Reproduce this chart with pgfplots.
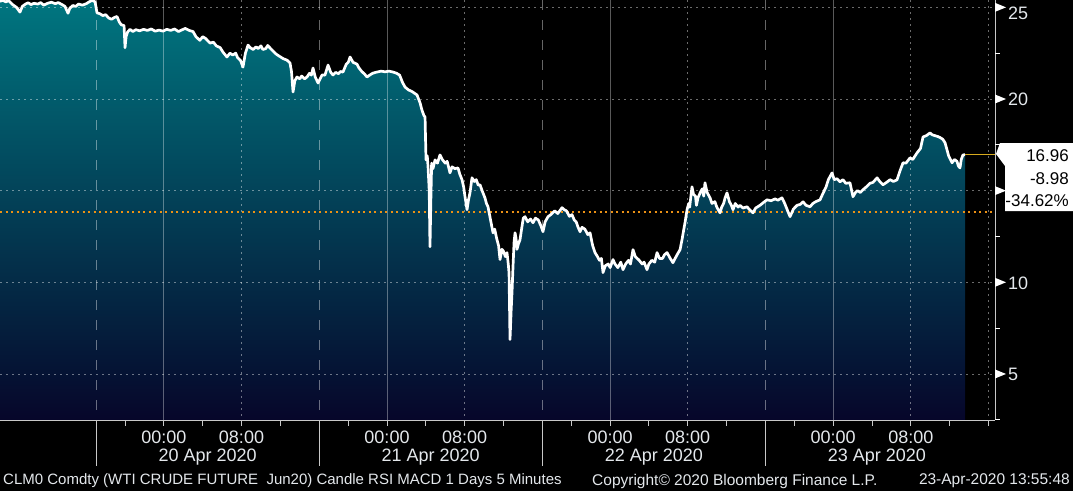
\documentclass[border=0pt]{standalone}
\usepackage{pgfplots}
\usepackage{pgfplotstable}
\pgfplotsset{compat=1.18}
\usepackage{fontspec}
\setmainfont{Liberation Sans}
\definecolor{fillTop}{RGB}{0,118,128}
\definecolor{fillBot}{RGB}{6,6,42}
\definecolor{lab}{RGB}{228,232,236}
\definecolor{orangeL}{RGB}{235,145,20}
\definecolor{goldL}{RGB}{215,170,30}
\definecolor{axisg}{RGB}{200,200,200}

\pgfplotstableread{
x y
-9.90 25.33
-9.60 25.38
-9.30 25.30
-9.00 25.36
-8.60 25.15
-8.20 25.00
-7.84 24.74
-7.60 25.05
-7.30 25.17
-7.00 25.25
-6.70 25.15
-6.40 25.22
-6.00 25.18
-5.70 25.26
-5.40 25.12
-5.00 25.22
-4.60 25.28
-4.20 25.20
-3.90 25.26
-3.50 25.15
-3.20 25.05
-2.89 24.68
-2.70 24.95
-2.40 25.10
-2.10 25.05
-1.80 25.18
-1.40 25.12
-1.00 25.20
-0.70 25.30
-0.40 25.38
-0.10 25.30
0.10 24.70
0.40 24.65
0.70 24.55
1.00 24.60
1.30 24.42
1.60 24.35
1.90 24.45
2.16 24.50
2.40 24.20
2.60 24.05
2.89 24.00
2.99 22.80
3.10 23.40
3.25 23.65
3.50 23.80
3.80 23.68
4.10 23.78
4.50 23.72
4.90 23.80
5.30 23.74
5.70 23.82
6.10 23.70
6.50 23.76
6.90 23.70
7.30 23.80
7.70 23.74
8.10 23.82
8.50 23.68
8.90 23.78
9.20 23.85
9.60 23.74
10.00 23.68
10.30 23.40
10.70 23.20
11.00 23.40
11.30 23.30
11.75 23.05
12.10 23.10
12.40 22.90
12.80 22.80
13.10 22.55
13.50 22.29
13.80 22.50
14.10 22.40
14.40 22.50
14.60 22.25
14.90 22.10
15.15 21.74
15.40 22.50
15.67 22.94
15.90 22.80
16.20 22.70
16.50 22.85
16.70 22.75
17.00 22.90
17.20 22.70
17.50 22.75
17.70 22.92
18.00 22.75
18.25 22.62
18.50 22.48
18.70 22.40
19.00 22.30
19.30 22.20
19.69 22.12
20.00 21.96
20.15 21.50
20.31 20.38
20.50 21.00
20.72 21.20
21.00 21.10
21.20 21.25
21.50 21.10
21.75 21.20
22.00 21.40
22.20 21.30
22.37 21.69
22.60 21.20
22.89 20.87
23.10 21.10
23.30 21.31
23.60 21.30
23.92 21.85
24.20 21.45
24.43 21.31
24.70 21.45
25.00 21.38
25.20 21.50
25.46 21.47
25.80 21.90
26.00 22.00
26.19 22.29
26.50 22.00
26.90 21.90
27.10 21.70
27.40 21.50
27.70 21.35
27.94 21.20
28.20 21.30
28.50 21.40
28.80 21.45
28.97 21.47
29.40 21.52
29.80 21.48
30.20 21.52
30.62 21.47
31.00 21.40
31.30 21.30
31.60 20.90
31.86 20.65
32.20 20.50
32.60 20.40
33.09 20.22
33.40 19.80
33.60 19.40
33.80 19.10
33.92 19.02
34.02 16.68
34.15 16.90
34.23 16.30
34.35 15.00
34.43 11.94
34.52 14.50
34.60 16.50
34.74 16.20
34.95 16.68
35.20 16.50
35.46 16.95
35.70 16.70
36.00 16.50
36.20 16.60
36.49 15.97
36.70 16.30
37.00 16.20
37.32 16.24
37.50 15.90
37.73 15.60
37.90 15.20
38.04 14.67
38.25 13.96
38.40 14.50
38.56 14.90
38.76 15.70
39.00 15.50
39.20 15.60
39.40 15.30
39.59 15.32
39.80 15.00
40.10 14.60
40.25 14.30
40.41 14.12
40.60 13.60
40.93 12.70
41.10 12.90
41.30 12.40
41.50 12.00
41.65 11.24
41.85 11.80
42.00 11.70
42.20 11.40
42.37 11.62
42.50 11.00
42.58 10.50
42.68 6.88
42.80 8.50
42.89 9.50
43.00 11.00
43.10 12.20
43.20 12.70
43.30 12.40
43.40 11.80
43.55 12.10
43.71 12.32
43.90 13.00
44.05 13.50
44.23 13.58
44.50 13.30
44.80 13.45
45.05 13.25
45.30 13.50
45.60 13.40
45.85 13.10
46.08 12.76
46.30 13.30
46.60 13.58
46.90 13.70
47.30 13.90
47.60 13.75
48.04 14.07
48.30 13.95
48.50 13.90
48.80 13.60
49.07 13.69
49.30 13.40
49.50 13.30
49.70 13.00
49.90 12.76
50.10 13.00
50.40 12.90
50.70 12.60
50.93 12.70
51.20 12.00
51.44 11.62
51.70 11.40
51.90 11.20
52.10 11.30
52.27 10.53
52.50 10.90
52.80 11.00
53.00 10.80
53.30 11.24
53.50 11.00
53.80 10.80
54.10 11.10
54.33 10.69
54.60 11.00
54.90 11.20
55.10 11.00
55.36 11.78
55.60 11.40
56.00 11.20
56.30 11.00
56.50 11.10
56.80 10.69
57.00 11.00
57.30 11.20
57.60 11.10
57.84 11.62
58.10 11.30
58.40 11.30
58.60 11.50
58.87 11.62
59.20 11.30
59.48 11.07
59.70 11.30
59.90 11.50
60.21 11.78
60.41 12.32
60.60 12.90
60.72 13.25
60.93 13.96
61.10 14.30
61.20 14.10
61.44 15.21
61.60 14.80
61.80 14.70
61.90 14.20
62.06 14.61
62.30 14.90
62.50 15.10
62.65 14.70
62.78 15.43
63.00 14.90
63.30 14.61
63.50 14.30
63.80 14.40
64.00 14.10
64.33 13.79
64.50 14.10
64.70 14.30
64.85 14.60
65.05 14.88
65.30 14.40
65.50 14.20
65.67 13.96
65.90 14.30
66.20 14.10
66.39 14.20
66.70 14.05
67.11 14.12
67.40 13.95
67.73 13.79
68.00 14.05
68.45 14.20
68.80 14.35
69.18 14.50
69.60 14.45
70.00 14.55
70.30 14.48
70.72 14.61
71.00 14.30
71.30 13.90
71.55 13.58
71.90 14.00
72.27 14.20
72.60 14.25
72.89 14.39
73.20 14.20
73.61 14.12
73.90 14.30
74.20 14.40
74.64 14.50
74.90 14.80
75.26 15.20
75.50 15.60
75.88 15.97
76.10 15.60
76.40 15.65
76.70 15.48
77.00 15.60
77.30 15.40
77.73 15.43
77.90 15.00
78.04 14.67
78.30 14.90
78.50 15.00
78.80 14.90
79.07 15.05
79.40 15.20
79.79 15.40
80.10 15.45
80.52 15.70
80.80 15.50
81.13 15.32
81.50 15.45
81.86 15.60
82.20 15.50
82.58 15.59
82.90 16.10
83.20 16.52
83.50 16.50
83.92 16.79
84.20 16.70
84.64 17.06
85.00 17.30
85.26 17.93
85.60 18.00
85.98 18.15
86.20 18.05
86.49 18.00
86.80 17.95
87.01 17.90
87.30 17.80
87.53 17.61
87.90 16.90
88.25 16.52
88.50 16.70
88.76 16.60
88.90 16.35
89.07 16.24
89.20 16.70
89.38 16.95
89.59 16.96
}\price

\begin{document}
\begin{tikzpicture}[x=1pt,y=1pt]
\fill[black] (0,0) rectangle (1073,-491);
\begin{axis}[at={(0,0)}, anchor=north west, scale only axis,
  width=995pt, height=420pt,
  xmin=-9.9, xmax=92.68, ymin=2.488, ymax=25.40,
  axis lines=none, clip=false]
% area
\addplot[draw=none, top color=fillTop, bottom color=fillBot] table {\price}
  -- (axis cs:89.59,2.488) -- (axis cs:-9.9,2.488) -- cycle;
% horizontal grid
\pgfplotsinvokeforeach{5,10,15,20,25}{
  \draw[white, opacity=.42, line width=.9pt, dash pattern=on 2pt off 4pt]
    (axis cs:-9.9,#1) -- (axis cs:92.68,#1);}
% session separators
\pgfplotsinvokeforeach{0,23,46,69}{
  \draw[white, opacity=.4, line width=1pt, dash pattern=on 10pt off 10pt]
    (axis cs:#1,25.4) -- (axis cs:#1,2.488);}
% midnight
\pgfplotsinvokeforeach{7,30,53,76}{
  \draw[white, opacity=.35, line width=1pt]
    (axis cs:#1,25.4) -- (axis cs:#1,2.488);}
% 08:00 and end
\pgfplotsinvokeforeach{15,38,61,84,92}{
  \draw[white, opacity=.42, line width=.9pt, dash pattern=on 2pt off 4pt]
    (axis cs:#1,25.4) -- (axis cs:#1,2.488);}
% orange reference line
\draw[orangeL, line width=2pt, dash pattern=on 2pt off 3.5pt]
  (axis cs:-9.9,13.82) -- (axis cs:92.68,13.82);
% price line
\addplot[white, line width=2.7pt, line join=round] table {\price};
% last price line
\draw[goldL, line width=1.3pt] (axis cs:89.59,16.96) -- (axis cs:92.68,16.96);
% axes
\draw[axisg, line width=1pt] (axis cs:92.68,25.4) -- (axis cs:92.68,2.488);
\draw[axisg, line width=1pt] (axis cs:-9.9,2.488) -- (axis cs:92.68,2.488);
\pgfplotsinvokeforeach{3,7,11,15,19,26,30,34,38,42,49,53,57,61,65,72,76,80,84,88,92}{
  \draw[axisg, line width=1pt] (axis cs:#1,2.488) -- ++(0pt,-6pt);}
\pgfplotsinvokeforeach{0,23,46,69}{
  \draw[axisg, line width=1pt] (axis cs:#1,2.488) -- ++(0pt,-46pt);}
\pgfplotsinvokeforeach{5,10,15,20,25}{
  \fill[white] (axis cs:92.68,#1) ++(0pt,4.5pt) -- ++(11pt,-4.5pt) -- ++(-11pt,-4.5pt) -- cycle;}
\pgfplotsinvokeforeach{2.5,7.5,12.5,17.5,22.5}{
  \draw[white, line width=1pt] (axis cs:92.68,#1) -- ++(5pt,0pt);}
\end{axis}
% y labels
\begin{scope}[every node/.style={inner sep=0pt, text=lab, font=\fontsize{18}{20}\selectfont}]
\node[anchor=west] at (1008,-13) {25};
\node[anchor=west] at (1008,-99) {20};
\node[anchor=west] at (1008,-283) {10};
\node[anchor=west] at (1008,-374) {5};
% x labels
\foreach \p in {163.9,387.0,610.1,833.2} \node at (\p,-437) {00:00};
\foreach \p in {241.5,464.6,687.7,910.8} \node at (\p,-437) {08:00};
\node at (207.6,-457) {20 Apr 2020};
\node at (430.7,-457) {21 Apr 2020};
\node at (653.8,-457) {22 Apr 2020};
\node at (876.9,-457) {23 Apr 2020};
\end{scope}
% price box
\fill[white] (1000,-143) -- (1073,-143) -- (1073,-211) -- (1005,-211) -- (1005,-166) -- (996,-154) -- cycle;
\begin{scope}[every node/.style={inner sep=0pt, text=black, anchor=east, font=\fontsize{17}{19}\selectfont}]
\node at (1069,-156) {16.96};
\node at (1069,-179) {-8.98};
\node at (1069,-201) {-34.62\%};
\end{scope}
% footer
\begin{scope}[every node/.style={inner sep=0pt, text=lab}]
\node[anchor=west, font=\fontsize{15}{17}\selectfont] at (3,-481) {CLM0 Comdty (WTI CRUDE FUTURE\ \ Jun20) Candle RSI MACD 1 Days 5 Minutes};
\node[anchor=west, font=\fontsize{15.5}{17}\selectfont] at (592,-481) {Copyright© 2020 Bloomberg Finance L.P.};
\node[anchor=east, font=\fontsize{15.5}{17}\selectfont] at (1070,-481) {23-Apr-2020 13:55:48};
\end{scope}
\pgfresetboundingbox
\path (0,0) rectangle (1073,-491);
\end{tikzpicture}
\end{document}
